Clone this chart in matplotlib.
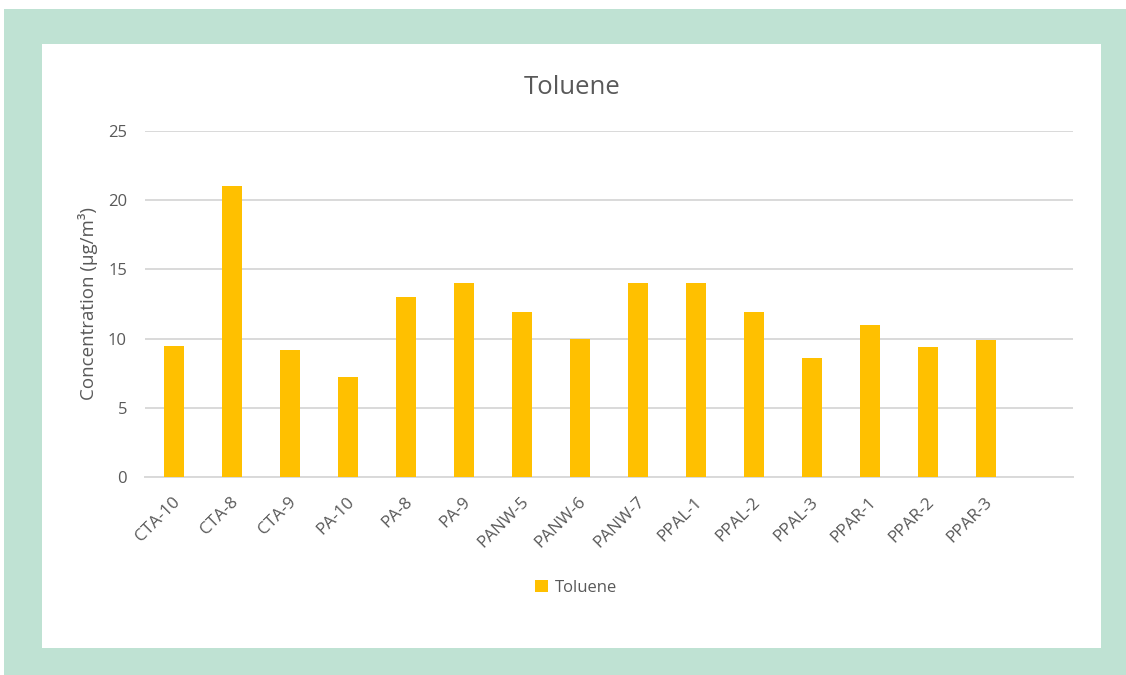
import matplotlib
matplotlib.use("Agg")
import matplotlib.pyplot as plt
from matplotlib.patches import Rectangle
import matplotlib.transforms as mtransforms

categories = ["CTA-10", "CTA-8", "CTA-9", "PA-10", "PA-8", "PA-9", "PANW-5", "PANW-6",
              "PANW-7", "PPAL-1", "PPAL-2", "PPAL-3", "PPAR-1", "PPAR-2", "PPAR-3"]
toluene = [9.5, 21.0, 9.2, 7.2, 13.0, 14.0, 11.95, 10.0, 14.0, 14.0, 11.95, 8.6, 11.0, 9.4, 9.9]
yticks = [0, 5, 10, 15, 20, 25]

plt.rcParams['font.family'] = ['Open Sans', 'DejaVu Sans']
TXT = '#595959'
GRID = '#D9D9D9'
BAR = '#FFC000'
GREEN = '#BFE2D3'

W, H = 1126, 675
fig = plt.figure(figsize=(W / 100, H / 100), dpi=100)
fig.patch.set_facecolor('white')

def px_rect(x0, y0, x1, y1, color):
    fig.patches.append(Rectangle((x0 / W, 1 - y1 / H), (x1 - x0) / W, (y1 - y0) / H,
                                 transform=fig.transFigure, facecolor=color,
                                 edgecolor='none', zorder=-10))

px_rect(4, 9, 1126, 675, GREEN)
px_rect(42, 44, 1101, 648, 'white')

ax = fig.add_axes([145 / W, 1 - 477.3 / H, (1073 - 145) / W, (477.3 - 130.7) / H])
ax.set_facecolor('none')

x = list(range(len(categories)))
ax.bar(x, toluene, width=0.336, color=BAR, zorder=3, label='Toluene')
ax.set_xlim(-0.5, len(categories) + 0.5)
ax.set_ylim(0, 25)
ax.set_yticks(yticks)
ax.set_yticklabels([str(v) for v in yticks])
ax.grid(axis='y', color=GRID, linewidth=1.4, zorder=0)
ax.set_axisbelow(True)
for s in ['left', 'right', 'top']:
    ax.spines[s].set_visible(False)
ax.spines['bottom'].set_color(GRID)
ax.spines['bottom'].set_linewidth(1.4)

ax.set_xticks(x)
ax.set_xticklabels(categories, rotation=45, ha='right', va='center', rotation_mode='anchor')
ax.tick_params(axis='x', length=0, pad=16, labelsize=12.3, labelcolor=TXT)
ax.tick_params(axis='y', length=0, pad=13, labelsize=12, labelcolor=TXT)
offset = mtransforms.ScaledTranslation(4 / 100, 0, fig.dpi_scale_trans)
for lbl in ax.get_xticklabels():
    lbl.set_transform(lbl.get_transform() + offset)

ax.set_ylabel('Concentration (µg/m³)', fontsize=13.5, color=TXT)
ax.yaxis.set_label_coords(-(145 - 98) / (1073 - 145), 0.5)

fig.text(572 / W, 1 - 87 / H, 'Toluene', fontsize=18.5, color=TXT, ha='center', va='center')

fig.legend(handles=ax.get_legend_handles_labels()[0], labels=['Toluene'],
           loc='center', bbox_to_anchor=(576 / W, 1 - 588 / H), frameon=False,
           fontsize=12, labelcolor=TXT, handlelength=0.75, handleheight=0.75,
           handletextpad=0.4)

fig.savefig('out.png', dpi=100, facecolor='white')
